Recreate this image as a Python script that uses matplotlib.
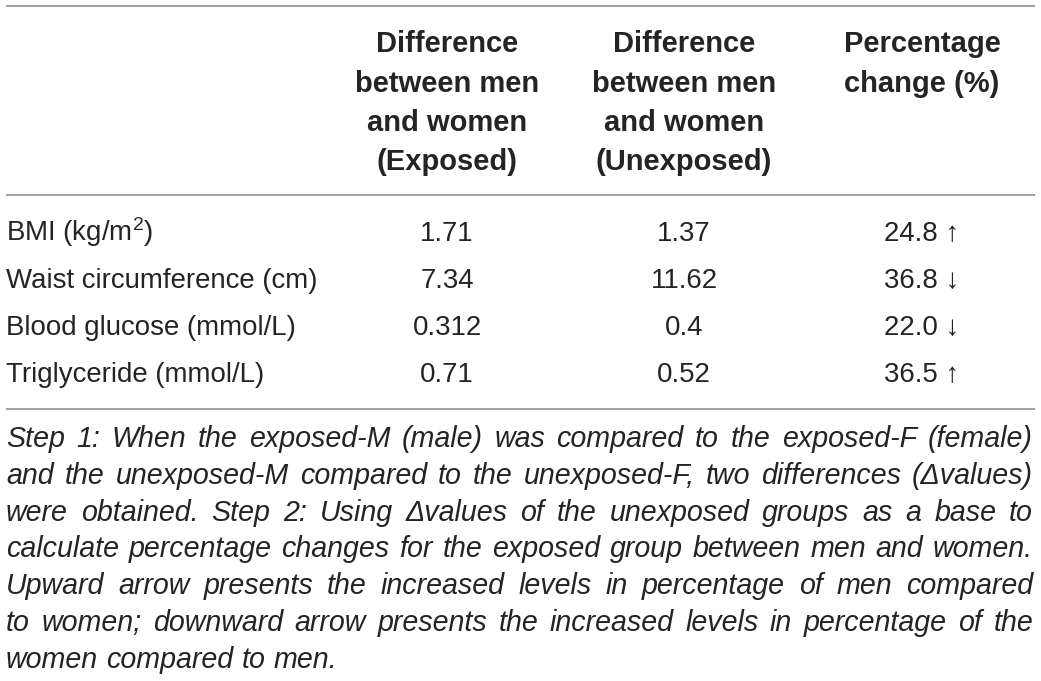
import matplotlib
matplotlib.use("Agg")
import matplotlib.pyplot as plt

plt.rcParams['font.family'] = ['Liberation Sans', 'DejaVu Sans']
plt.rcParams['mathtext.default'] = 'regular'

# table content
headers = [
    "Difference\nbetween men\nand women\n(Exposed)",
    "Difference\nbetween men\nand women\n(Unexposed)",
    "Percentage\nchange (%)",
]
row_labels = ["BMI (kg/m$^{2}$)", "Waist circumference (cm)",
              "Blood glucose (mmol/L)", "Triglyceride (mmol/L)"]
exposed = ["1.71", "7.34", "0.312", "0.71"]
unexposed = ["1.37", "11.62", "0.4", "0.52"]
pct_change = ["24.8", "36.8", "22.0", "36.5"]
direction = ["\u2191", "\u2193", "\u2193", "\u2191"]

footnote = [
    "Step 1: When the exposed-M (male) was compared to the exposed-F (female)",
    "and the unexposed-M compared to the unexposed-F, two differences (\u0394values)",
    "were obtained. Step 2: Using \u0394values of the unexposed groups as a base to",
    "calculate percentage changes for the exposed group between men and women.",
    "Upward arrow presents the increased levels in percentage of men compared",
    "to women; downward arrow presents the increased levels in percentage of the",
    "women compared to men.",
]

W, H = 1041, 681
TXT = "#262324"
RULE = "#9a9a9a"
FS = 19.9
FS_HEAD = 21
FS_FOOT = 20.6

fig = plt.figure(figsize=(W / 100, H / 100), dpi=100)
ax = fig.add_axes([0, 0, 1, 1])
ax.set_xlim(0, W)
ax.set_ylim(H, 0)
ax.axis("off")

left, right = 6, 1035
col_x = [447, 684, 922]

# rules
for y in (6, 195, 409):
    ax.plot([left, right], [y, y], color=RULE, lw=1.3, solid_capstyle="butt")

# header
head_base = [52, 91.5, 131, 170.5]
for cx, h in zip(col_x, headers):
    for i, line in enumerate(h.split("\n")):
        ax.text(cx, head_base[i], line, ha="center", va="baseline",
                fontsize=FS_HEAD, fontweight="bold", color=TXT)

# body
row_base = [241, 288, 335, 382]
for i, lab in enumerate(row_labels):
    y = row_base[i]
    ax.text(left, y, lab, ha="left", va="baseline", fontsize=FS, color=TXT)
    ax.text(col_x[0], y, exposed[i], ha="center", va="baseline", fontsize=FS, color=TXT)
    ax.text(col_x[1], y, unexposed[i], ha="center", va="baseline", fontsize=FS, color=TXT)
    ax.text(col_x[2], y, pct_change[i] + " " + direction[i], ha="center",
            va="baseline", fontsize=FS, color=TXT)

# justified italic footnote
renderer = fig.canvas.get_renderer()
foot_left, foot_right = 6, 1033
foot_base = 447
foot_step = 36.8
for n, line in enumerate(footnote):
    y = foot_base + n * foot_step
    words = line.split(" ")
    items = []
    for w in words:
        t = ax.text(0, y, w, ha="left", va="baseline", fontsize=FS_FOOT,
                    style="italic", color=TXT)
        items.append((t, t.get_window_extent(renderer).width))
    if n == len(footnote) - 1:
        sp = ax.text(0, 0, "a a", fontsize=FS_FOOT, style="italic")
        aa = ax.text(0, 0, "aa", fontsize=FS_FOOT, style="italic")
        gap = sp.get_window_extent(renderer).width - aa.get_window_extent(renderer).width
        sp.remove()
        aa.remove()
    else:
        gap = (foot_right - foot_left - sum(w for _, w in items)) / (len(items) - 1)
    x = foot_left
    for t, w in items:
        t.set_x(x)
        x += w + gap

fig.savefig("out.png", dpi=100)
